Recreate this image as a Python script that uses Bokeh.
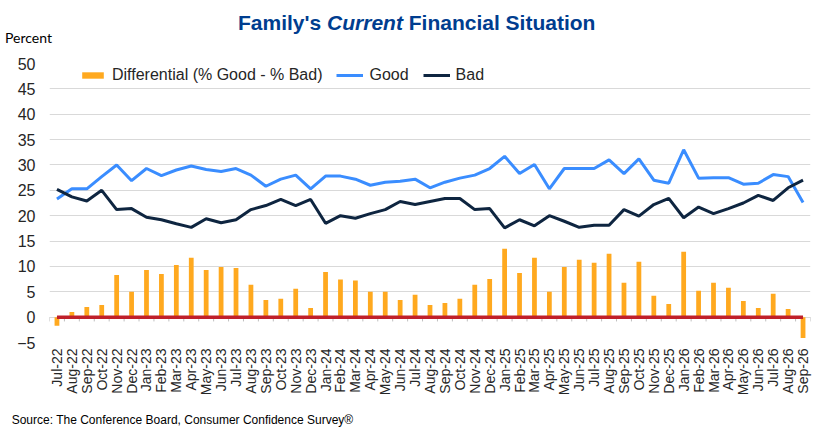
import math
from bokeh.plotting import figure
from bokeh.layouts import column
from bokeh.models import (Range1d, FixedTicker, Legend, LegendItem, ColumnDataSource, Div)
from bokeh.embed import file_html
from bokeh.resources import INLINE

months = ["Jul-22", "Aug-22", "Sep-22", "Oct-22", "Nov-22", "Dec-22",
          "Jan-23", "Feb-23", "Mar-23", "Apr-23", "May-23", "Jun-23",
          "Jul-23", "Aug-23", "Sep-23", "Oct-23", "Nov-23", "Dec-23",
          "Jan-24", "Feb-24", "Mar-24", "Apr-24", "May-24", "Jun-24",
          "Jul-24", "Aug-24", "Sep-24", "Oct-24", "Nov-24", "Dec-24",
          "Jan-25", "Feb-25", "Mar-25", "Apr-25", "May-25", "Jun-25",
          "Jul-25", "Aug-25", "Sep-25", "Oct-25", "Nov-25", "Dec-25",
          "Jan-26", "Feb-26", "Mar-26", "Apr-26", "May-26", "Jun-26",
          "Jul-26", "Aug-26", "Sep-26"]

good = [23.3, 25.3, 25.3, 27.7, 30.0, 26.9, 29.3, 27.9, 29.0, 29.8, 29.1, 28.7,
        29.3, 28.0, 25.8, 27.2, 28.0, 25.3, 27.8, 27.8, 27.2, 26.0, 26.6, 26.8,
        27.2, 25.5, 26.6, 27.4, 28.0, 29.3, 31.7, 28.3, 30.1, 25.3, 29.3, 29.3,
        29.3, 31.0, 28.3, 31.2, 27.0, 26.4, 33.0, 27.4, 27.5, 27.5, 26.2, 26.4,
        28.1, 27.7, 22.6]

bad = [25.2, 23.7, 22.9, 25.0, 21.2, 21.4, 19.7, 19.2, 18.4, 17.7, 19.4, 18.6,
       19.2, 21.2, 22.0, 23.2, 22.0, 23.2, 18.5, 20.0, 19.5, 20.4, 21.2, 22.8,
       22.2, 22.8, 23.4, 23.4, 21.2, 21.4, 17.6, 19.2, 18.0, 20.0, 18.9, 17.7,
       18.1, 18.1, 21.2, 19.9, 22.2, 23.4, 19.6, 21.7, 20.4, 21.4, 22.5, 24.0,
       23.0, 25.5, 27.0]

diff = [-1.7, 1.0, 2.0, 2.4, 8.3, 5.0, 9.3, 8.5, 10.3, 11.7, 9.3, 9.9,
        9.7, 6.4, 3.4, 3.6, 5.6, 1.8, 8.9, 7.4, 7.2, 5.0, 5.0, 3.4,
        4.4, 2.4, 2.8, 3.6, 6.4, 7.5, 13.5, 8.7, 11.7, 5.0, 9.9, 11.3,
        10.7, 12.5, 6.8, 10.9, 4.2, 2.6, 12.9, 5.2, 6.8, 5.8, 3.2, 1.8,
        4.6, 1.6, -4.1]

y_ticks = list(range(-5, 55, 5))

n = len(months)
idx = list(range(n))

FONT = "Liberation Sans"
W = 822

title_html = (
    '<div style="position:relative;width:822px;height:48px;margin:0;padding:0;">'
    '<span style="position:absolute;left:238px;top:12.2px;white-space:nowrap;'
    "font-family:'Liberation Sans';font-weight:bold;font-size:21px;line-height:1;"
    'color:#003D8F;">Family\'s <i>Current</i> Financial Situation</span>'
    '<span style="position:absolute;left:5px;top:30.9px;white-space:nowrap;'
    "font-family:'Lato';font-size:14px;line-height:1;color:#000000;\">Percent</span>"
    '</div>')
top_div = Div(text=title_html, width=W, height=48, margin=(0, 0, 0, 0))

p = figure(width=W, height=352, output_backend="svg", toolbar_location=None,
           x_range=Range1d(-0.5, n - 0.5), y_range=Range1d(-5, 50),
           min_border_left=49, min_border_right=12, min_border_top=15,
           min_border_bottom=58, outline_line_color=None, margin=(0, 0, 0, 0))

p.xgrid.grid_line_color = None
p.ygrid.grid_line_color = "#D9D9D9"
p.ygrid.grid_line_width = 1

p.yaxis.ticker = FixedTicker(ticks=y_ticks)
p.yaxis.axis_line_color = None
p.yaxis.major_tick_line_color = None
p.yaxis.minor_tick_line_color = None
p.yaxis.major_tick_out = 0
p.yaxis.major_tick_in = 0
p.yaxis.major_label_standoff = 14
p.yaxis.major_label_text_font = FONT
p.yaxis.major_label_text_font_size = "16px"
p.yaxis.major_label_text_color = "#262626"

p.xaxis.ticker = FixedTicker(ticks=idx)
p.xaxis.major_label_overrides = {i: m for i, m in enumerate(months)}
p.xaxis.major_label_orientation = math.pi / 2
p.xaxis.axis_line_color = None
p.xaxis.major_tick_line_color = None
p.xaxis.minor_tick_line_color = None
p.xaxis.major_tick_out = 0
p.xaxis.major_tick_in = 0
p.xaxis.major_label_standoff = 6
p.xaxis.major_label_text_font = FONT
p.xaxis.major_label_text_font_size = "14px"
p.xaxis.major_label_text_color = "#262626"

src = ColumnDataSource(dict(x=idx, good=good, bad=bad, diff=diff, zero=[0] * n))

# category boundary tick marks on the zero line
bounds = [i - 0.5 for i in range(n + 1)]
p.segment(x0=bounds, y0=[0] * (n + 1), x1=bounds, y1=[-0.85] * (n + 1),
          line_color="#BFBFBF", line_width=1)

bars = p.vbar(x="x", top="diff", bottom=0, width=0.32, source=src,
              fill_color="#FFA91F", line_color=None)
p.line(x="x", y="zero", source=src, line_color="#C0202A", line_width=3.5)
gl = p.line(x="x", y="good", source=src, line_color="#3A8DFF", line_width=3)
bl = p.line(x="x", y="bad", source=src, line_color="#0E2540", line_width=3)

legend = Legend(items=[LegendItem(label="Differential (% Good - % Bad)", renderers=[bars]),
                       LegendItem(label="Good", renderers=[gl]),
                       LegendItem(label="Bad", renderers=[bl])],
                orientation="horizontal", location=(30, 258),
                padding=0, margin=0, spacing=14, label_standoff=6,
                glyph_width=27, glyph_height=8, label_height=8,
                label_text_font=FONT, label_text_font_size="16px",
                label_text_color="#262626",
                background_fill_alpha=0, border_line_alpha=0)
p.add_layout(legend, "center")

source_html = (
    '<div style="position:relative;width:822px;height:27px;margin:0;padding:0;">'
    '<span style="position:absolute;left:11.7px;top:14.1px;white-space:nowrap;'
    "font-family:'Liberation Sans';font-size:12px;line-height:1;color:#000000;\">"
    'Source: The Conference Board, Consumer Confidence Survey®</span></div>')
bottom_div = Div(text=source_html, width=W, height=27, margin=(0, 0, 0, 0))

layout = column(top_div, p, bottom_div, spacing=0, margin=(0, 0, 0, 0))

open("out.html", "w").write(file_html(layout, INLINE))
